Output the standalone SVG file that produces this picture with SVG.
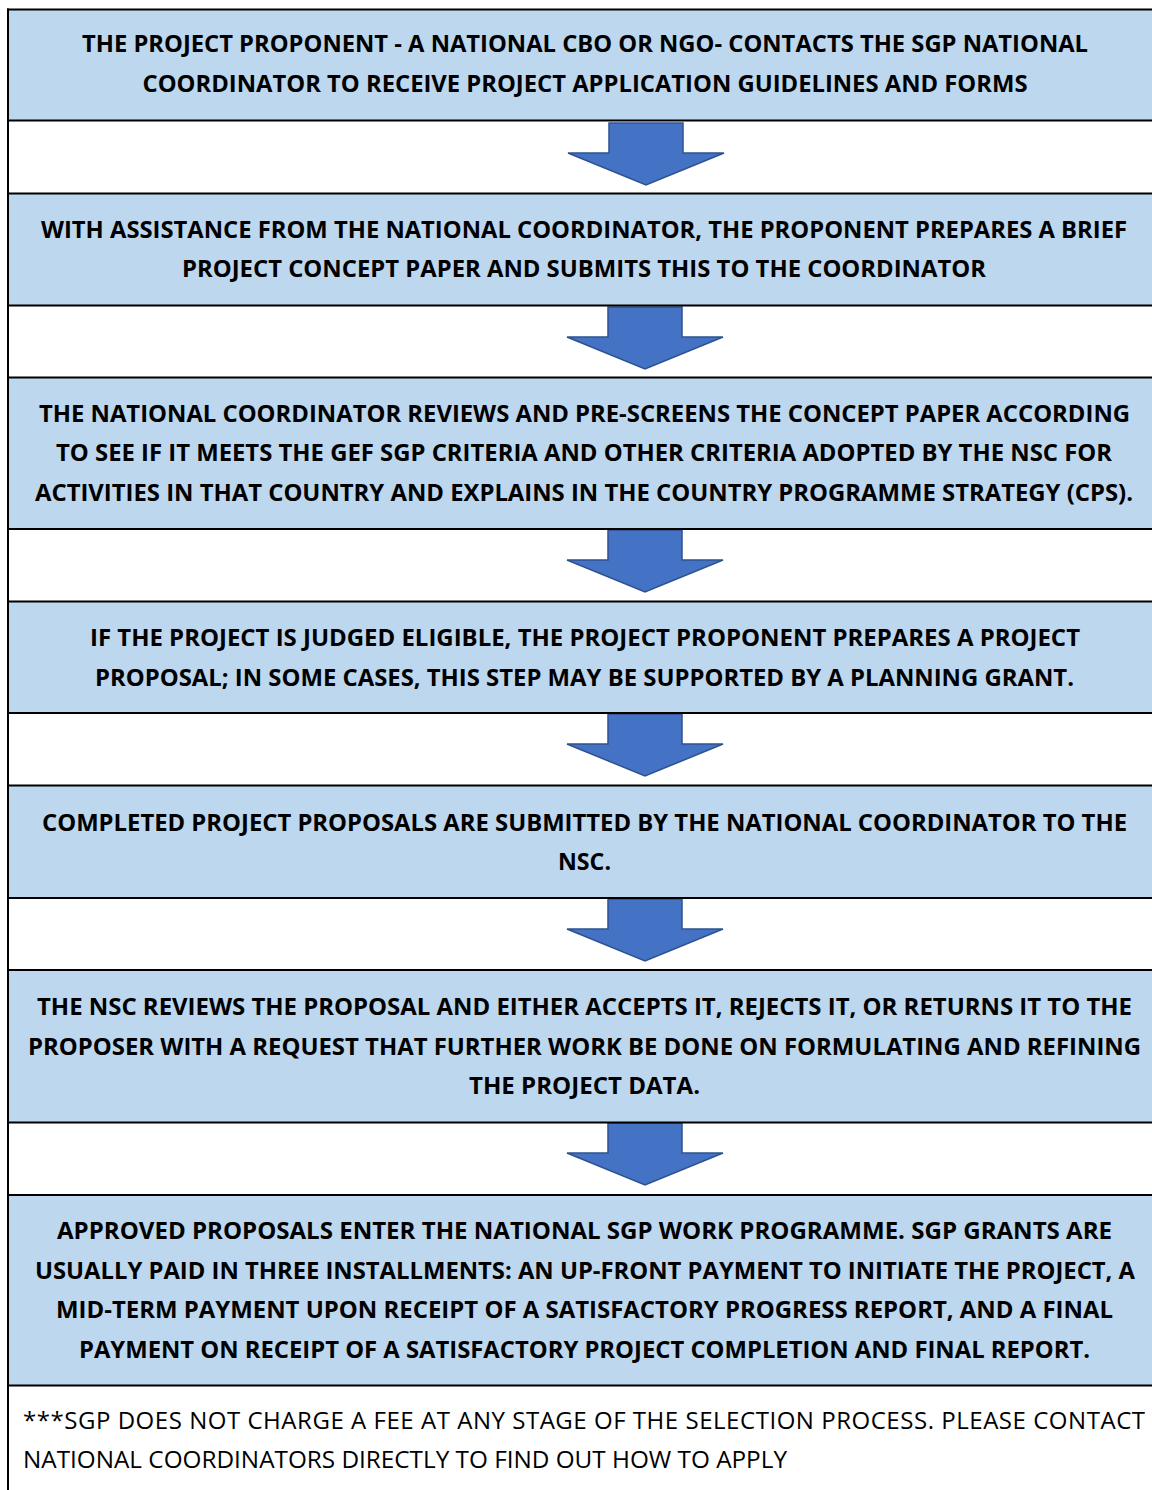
<svg xmlns="http://www.w3.org/2000/svg" width="1152" height="1490" viewBox="0 0 1152 1490">
<style>
.blue{fill:#BDD7EE}
.line{stroke:#000;stroke-width:2;fill:none}
.t{font-family:"Open Sans","Noto Sans","Liberation Sans",sans-serif;font-weight:bold;font-size:24px;fill:#000;text-anchor:middle}
.f{font-family:"Open Sans","Noto Sans","Liberation Sans",sans-serif;font-size:24px;fill:#000}
</style>
<defs>
<path id="arrow" d="M41,0 H115 V30 H156 L78,62 L0,30 H41 Z" fill="#4472C4" stroke="#2F528F" stroke-width="1.5" stroke-linejoin="miter"/>
</defs>
<rect width="1152" height="1490" fill="#fff"/>
<g id="step1">
<rect class="blue" x="8" y="9.5" width="1144" height="111"/>
<text class="t" x="585" y="52" textLength="1006" lengthAdjust="spacingAndGlyphs">THE PROJECT PROPONENT - A NATIONAL CBO OR NGO- CONTACTS THE SGP NATIONAL</text>
<text class="t" x="585" y="92" textLength="885" lengthAdjust="spacingAndGlyphs">COORDINATOR TO RECEIVE PROJECT APPLICATION GUIDELINES AND FORMS</text>
</g>
<g id="step2">
<rect class="blue" x="8" y="193.5" width="1144" height="112"/>
<text class="t" x="584" y="238" textLength="1086" lengthAdjust="spacingAndGlyphs">WITH ASSISTANCE FROM THE NATIONAL COORDINATOR, THE PROPONENT PREPARES A BRIEF</text>
<text class="t" x="584" y="277" textLength="804" lengthAdjust="spacingAndGlyphs">PROJECT CONCEPT PAPER AND SUBMITS THIS TO THE COORDINATOR</text>
</g>
<g id="step3">
<rect class="blue" x="8" y="377.5" width="1144" height="151.5"/>
<text class="t" x="584.5" y="422" textLength="1091" lengthAdjust="spacingAndGlyphs">THE NATIONAL COORDINATOR REVIEWS AND PRE-SCREENS THE CONCEPT PAPER ACCORDING</text>
<text class="t" x="584" y="461" textLength="1056" lengthAdjust="spacingAndGlyphs">TO SEE IF IT MEETS THE GEF SGP CRITERIA AND OTHER CRITERIA ADOPTED BY THE NSC FOR</text>
<text class="t" x="584" y="501" textLength="1098" lengthAdjust="spacingAndGlyphs">ACTIVITIES IN THAT COUNTRY AND EXPLAINS IN THE COUNTRY PROGRAMME STRATEGY (CPS).</text>
</g>
<g id="step4">
<rect class="blue" x="8" y="601.5" width="1144" height="111.5"/>
<text class="t" x="585" y="646" textLength="990" lengthAdjust="spacingAndGlyphs">IF THE PROJECT IS JUDGED ELIGIBLE, THE PROJECT PROPONENT PREPARES A PROJECT</text>
<text class="t" x="584.5" y="686" textLength="979" lengthAdjust="spacingAndGlyphs">PROPOSAL; IN SOME CASES, THIS STEP MAY BE SUPPORTED BY A PLANNING GRANT.</text>
</g>
<g id="step5">
<rect class="blue" x="8" y="785.5" width="1144" height="112.5"/>
<text class="t" x="584.5" y="831" textLength="1085" lengthAdjust="spacingAndGlyphs">COMPLETED PROJECT PROPOSALS ARE SUBMITTED BY THE NATIONAL COORDINATOR TO THE</text>
<text class="t" x="584.5" y="870" textLength="53" lengthAdjust="spacingAndGlyphs">NSC.</text>
</g>
<g id="step6">
<rect class="blue" x="8" y="970" width="1144" height="152.5"/>
<text class="t" x="584.5" y="1015" textLength="1095" lengthAdjust="spacingAndGlyphs">THE NSC REVIEWS THE PROPOSAL AND EITHER ACCEPTS IT, REJECTS IT, OR RETURNS IT TO THE</text>
<text class="t" x="584.5" y="1055" textLength="1113" lengthAdjust="spacingAndGlyphs">PROPOSER WITH A REQUEST THAT FURTHER WORK BE DONE ON FORMULATING AND REFINING</text>
<text class="t" x="584.5" y="1094" textLength="231" lengthAdjust="spacingAndGlyphs">THE PROJECT DATA.</text>
</g>
<g id="step7">
<rect class="blue" x="8" y="1195" width="1144" height="190.5"/>
<text class="t" x="584.5" y="1239" textLength="1055" lengthAdjust="spacingAndGlyphs">APPROVED PROPOSALS ENTER THE NATIONAL SGP WORK PROGRAMME. SGP GRANTS ARE</text>
<text class="t" x="585" y="1279" textLength="1100" lengthAdjust="spacingAndGlyphs">USUALLY PAID IN THREE INSTALLMENTS: AN UP-FRONT PAYMENT TO INITIATE THE PROJECT, A</text>
<text class="t" x="584.5" y="1318" textLength="1057" lengthAdjust="spacingAndGlyphs">MID-TERM PAYMENT UPON RECEIPT OF A SATISFACTORY PROGRESS REPORT, AND A FINAL</text>
<text class="t" x="584.5" y="1358" textLength="1011" lengthAdjust="spacingAndGlyphs">PAYMENT ON RECEIPT OF A SATISFACTORY PROJECT COMPLETION AND FINAL REPORT.</text>
</g>
<g id="note">
<text class="f" x="23" y="1429" textLength="1122" lengthAdjust="spacing">***SGP DOES NOT CHARGE A FEE AT ANY STAGE OF THE SELECTION PROCESS. PLEASE CONTACT</text>
<text class="f" x="23" y="1468" textLength="764" lengthAdjust="spacingAndGlyphs">NATIONAL COORDINATORS DIRECTLY TO FIND OUT HOW TO APPLY</text>
</g>
<g id="connectors">
<use href="#arrow" transform="translate(568,123)"/>
<use href="#arrow" transform="translate(567,307)"/>
<use href="#arrow" transform="translate(567,530)"/>
<use href="#arrow" transform="translate(567,714)"/>
<use href="#arrow" transform="translate(567,899)"/>
<use href="#arrow" transform="translate(567,1123)"/>
</g>
<g id="grid" class="line">
<line x1="8" y1="8.5" x2="8" y2="1490"/>
<line x1="7" y1="9.5" x2="1152" y2="9.5"/>
<line x1="7" y1="120.5" x2="1152" y2="120.5"/>
<line x1="7" y1="193.5" x2="1152" y2="193.5"/>
<line x1="7" y1="305.5" x2="1152" y2="305.5"/>
<line x1="7" y1="377.5" x2="1152" y2="377.5"/>
<line x1="7" y1="529" x2="1152" y2="529"/>
<line x1="7" y1="601.5" x2="1152" y2="601.5"/>
<line x1="7" y1="713" x2="1152" y2="713"/>
<line x1="7" y1="785.5" x2="1152" y2="785.5"/>
<line x1="7" y1="898" x2="1152" y2="898"/>
<line x1="7" y1="970" x2="1152" y2="970"/>
<line x1="7" y1="1122.5" x2="1152" y2="1122.5"/>
<line x1="7" y1="1195" x2="1152" y2="1195"/>
<line x1="7" y1="1385.5" x2="1152" y2="1385.5"/>
</g>
</svg>
